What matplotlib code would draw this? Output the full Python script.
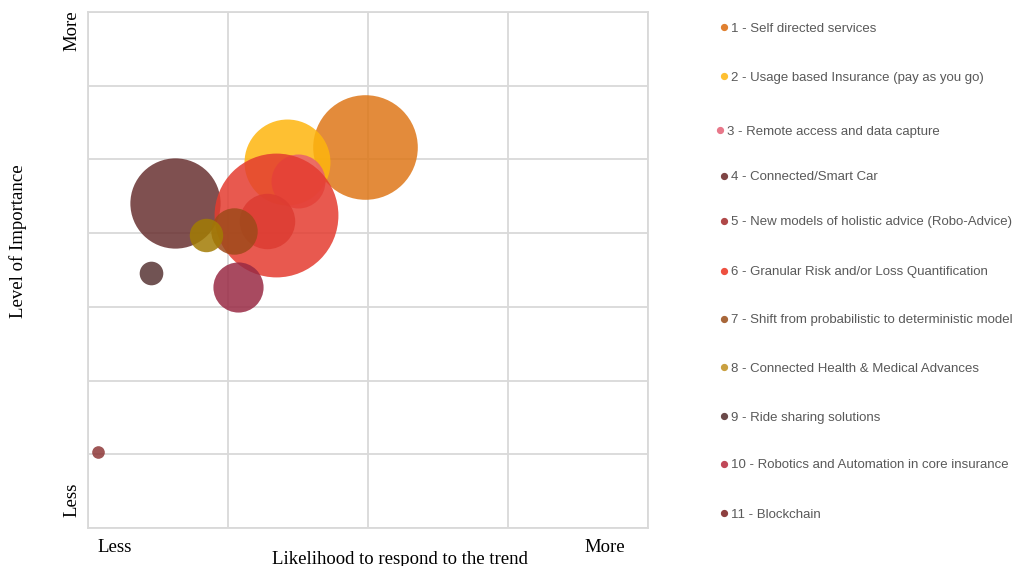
import matplotlib
matplotlib.use('Agg')
import matplotlib.pyplot as plt
from matplotlib.lines import Line2D

# bubble data (x = likelihood, y = importance, size = relative bubble area)
labels = [
    '1 - Self directed services',
    '2 - Usage based Insurance (pay as you go)',
    '3 - Remote access and data capture',
    '4 - Connected/Smart Car',
    '5 - New models of holistic advice (Robo-Advice)',
    '6 - Granular Risk and/or Loss Quantification',
    '7 - Shift from probabilistic to deterministic model',
    '8 - Connected Health & Medical Advances',
    '9 - Ride sharing solutions',
    '10 - Robotics and Automation in core insurance',
    '11 - Blockchain',
]
x_vals = [1.98, 1.42, 1.50, 0.62, 1.28, 1.34, 1.04, 0.84, 0.45, 1.07, 0.07]
y_vals = [5.17, 4.97, 4.71, 4.41, 4.17, 4.24, 4.03, 3.97, 3.46, 3.27, 1.03]
sizes = [274, 185, 73, 204, 77, 384, 54, 28, 14, 63, 4]
colors = ['#DE7718', '#FEB50E', '#E8606E', '#693131', '#B53A3E', '#E43C30',
          '#9E4A1A', '#A27C04', '#583535', '#992A44', '#8E3838']
legend_colors = ['#E08030', '#FEC032', '#E8788A', '#7F4545', '#B04848', '#EE5040',
                 '#A8673A', '#C9A040', '#6B4A4A', '#C04858', '#8E4040']

W, H = 1013, 566
fig = plt.figure(figsize=(W / 100, H / 100), dpi=100)
ax = fig.add_axes([88 / W, 1 - 528 / H, 560 / W, 516 / H])

for i in range(len(labels)):
    ax.scatter(x_vals[i], y_vals[i], s=sizes[i] * 20.7, color=colors[i],
               alpha=0.85, linewidths=0, zorder=3)

ax.set_xlim(0, 4)
ax.set_ylim(0, 7)
ax.set_xticks([0, 1, 2, 3, 4])
ax.set_yticks(range(8))
ax.tick_params(length=0, labelbottom=False, labelleft=False)
ax.grid(True, color='#D9D9D9', linewidth=1.3, zorder=0)
for sp in ax.spines.values():
    sp.set_color('#D9D9D9')
    sp.set_linewidth(1.3)

serif = dict(family='Liberation Serif', fontsize=13.5, color='black')
fig.text(72 / W, 1 - 31 / H, 'More', rotation=90, ha='center', va='center', **serif)
fig.text(72 / W, 1 - 500 / H, 'Less', rotation=90, ha='center', va='center', **serif)
fig.text(18 / W, 1 - 241 / H, 'Level of Importance', rotation=90, ha='center', va='center', **serif)
fig.text(115 / W, 1 - 547 / H, 'Less', ha='center', va='center', **serif)
fig.text(605 / W, 1 - 547 / H, 'More', ha='center', va='center', **serif)
fig.text(400 / W, 1 - 559 / H, 'Likelihood to respond to the trend', ha='center', va='center', **serif)

# legend drawn by hand to keep the wide spacing
leg_y = [27, 76, 130, 176, 221, 271, 319, 367, 416, 464, 513]
for i, lab in enumerate(labels):
    mx = 720 if i == 2 else 724
    fig.add_artist(Line2D([mx / W], [1 - leg_y[i] / H], marker='o', markersize=4.2,
                          color=legend_colors[i], linestyle='none',
                          transform=fig.transFigure))
    fig.text((mx + 7) / W, 1 - (leg_y[i] + 1.5) / H, lab, ha='left', va='center',
             family='Liberation Sans', fontsize=9.5, color='#595959')

fig.savefig('out.png', dpi=100)
